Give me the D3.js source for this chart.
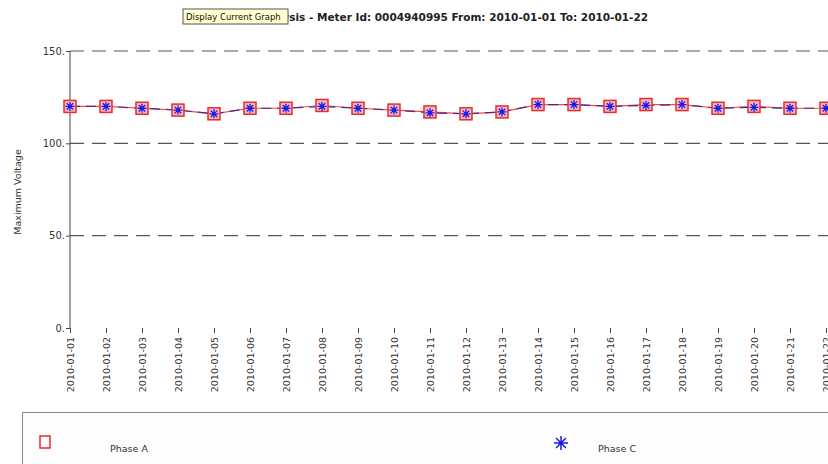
<!DOCTYPE html>
<html>
<head>
<meta charset="utf-8">
<script src="https://cdn.jsdelivr.net/npm/d3@7"></script>
<style>
  body { margin: 0; background: #fff; }
  text { font-family: Tahoma, "DejaVu Sans", sans-serif; }
</style>
</head>
<body>
<svg id="chart"></svg>
<script>
'use strict';

var dates = ["2010-01-01", "2010-01-02", "2010-01-03", "2010-01-04", "2010-01-05", "2010-01-06",
             "2010-01-07", "2010-01-08", "2010-01-09", "2010-01-10", "2010-01-11", "2010-01-12",
             "2010-01-13", "2010-01-14", "2010-01-15", "2010-01-16", "2010-01-17", "2010-01-18",
             "2010-01-19", "2010-01-20", "2010-01-21", "2010-01-22"];
var phaseA = [120, 120, 119, 118, 116, 119, 119, 120.5, 119, 118, 117, 116,
              117, 121, 121, 120, 121, 121, 119, 120, 119, 119];
var phaseC = [120, 120, 119, 118, 116, 119, 119, 120, 119, 118, 116.5, 116,
              117, 121, 121, 120, 120.5, 121, 119, 119.5, 119, 119];
var yTicks = [0, 50, 100, 150];

function show_chart() {
    var width = 828,
        height = 464;

    var x = d3.scalePoint()
                .domain(dates)
                .range([70, 826]);

    var y = d3.scaleLinear()
                .domain([0, 150])
                .range([328, 51]);

    var svg = d3.select("#chart")
                .attr("width", width)
                .attr("height", height);

    // dashed grid
    svg.append("g")
        .selectAll("line")
        .data(yTicks.filter(function(d) { return d > 0; }))
        .enter().append("line")
            .attr("x1", 70)
            .attr("x2", width)
            .attr("y1", function(d) { return y(d); })
            .attr("y2", function(d) { return y(d); })
            .attr("stroke", "#555")
            .attr("stroke-width", 1.2)
            .attr("stroke-dasharray", "14,8");

    // y axis
    var yAxis = svg.append("g")
                    .attr("transform", "translate(70,0)")
                    .call(d3.axisLeft(y).tickValues(yTicks).tickSize(4).tickFormat(function(d) { return d + "."; }));
    yAxis.select(".domain").attr("stroke", "#444").attr("d", "M0," + y(150) + "V" + y(0));
    yAxis.selectAll("text").attr("font-size", 10).attr("fill", "#333").attr("dx", 2);
    yAxis.selectAll(".tick line").attr("stroke", "#444");

    // x axis
    var xAxis = svg.append("g")
                    .attr("transform", "translate(0," + y(0) + ")")
                    .call(d3.axisBottom(x).tickSize(5).tickSizeOuter(0));
    xAxis.select(".domain").remove();
    xAxis.selectAll(".tick line").attr("stroke", "#444");
    xAxis.selectAll("text")
        .attr("font-size", 9.5)
        .attr("fill", "#333")
        .attr("transform", "rotate(-90)")
        .attr("text-anchor", "end")
        .attr("x", -9)
        .attr("y", 0)
        .attr("dy", "0.35em");

    // y title
    svg.append("text")
        .attr("transform", "translate(21,192) rotate(-90)")
        .attr("text-anchor", "middle")
        .attr("font-size", 9.5)
        .attr("fill", "#333")
        .text("Maximum Voltage");

    var line = d3.line()
                .x(function(d, i) { return x(dates[i]); })
                .y(function(d) { return y(d); });

    svg.append("path")
        .datum(phaseA)
        .attr("d", line)
        .attr("fill", "none")
        .attr("stroke", "#f04848")
        .attr("stroke-width", 1.2);

    svg.append("path")
        .datum(phaseC)
        .attr("d", line)
        .attr("fill", "none")
        .attr("stroke", "#4a2a8a")
        .attr("stroke-width", 1.2)
        .attr("stroke-dasharray", "10,6");

    // phase A markers
    svg.append("g")
        .selectAll("rect")
        .data(phaseA)
        .enter().append("rect")
            .attr("x", function(d, i) { return x(dates[i]) - 6; })
            .attr("y", function(d) { return y(d) - 6; })
            .attr("width", 12)
            .attr("height", 12)
            .attr("fill", "#f6b8c0")
            .attr("stroke", "#ee2a2a")
            .attr("stroke-width", 1.5);

    // phase C markers (asterisk)
    svg.append("g")
        .selectAll("path")
        .data(phaseC)
        .enter().append("path")
            .attr("transform", function(d, i) { return "translate(" + x(dates[i]) + "," + y(d) + ")"; })
            .attr("d", starPath(4.5))
            .attr("fill", "none")
            .attr("stroke", "#1a1ae6")
            .attr("stroke-width", 1.3);

    // title (partly hidden under the tooltip, as in the screenshot)
    svg.append("text")
        .attr("x", 648)
        .attr("y", 21)
        .attr("text-anchor", "end")
        .attr("font-size", 10.5)
        .attr("font-weight", "bold")
        .attr("fill", "#222")
        .text("Voltage Analysis  - Meter Id: 0004940995 From: 2010-01-01 To: 2010-01-22");

    // tooltip over title
    var tip = svg.append("g").attr("transform", "translate(183,9)");
    tip.append("rect")
        .attr("width", 105)
        .attr("height", 15)
        .attr("fill", "#ffffd0")
        .attr("stroke", "#555");
    tip.append("text")
        .attr("x", 3)
        .attr("y", 11)
        .attr("font-size", 8.5)
        .attr("fill", "#111")
        .text("Display Current Graph");

    // legend
    var legend = svg.append("g");
    legend.append("rect")
        .attr("x", 22.5)
        .attr("y", 412.5)
        .attr("width", 820)
        .attr("height", 60)
        .attr("fill", "#fdfdfd")
        .attr("stroke", "#888");
    legend.append("rect")
        .attr("x", 40)
        .attr("y", 436)
        .attr("width", 10)
        .attr("height", 12)
        .attr("fill", "none")
        .attr("stroke", "#ee2a2a")
        .attr("stroke-width", 1.5);
    legend.append("text")
        .attr("x", 110)
        .attr("y", 452)
        .attr("font-size", 9.5)
        .attr("fill", "#333")
        .text("Phase A");
    legend.append("path")
        .attr("transform", "translate(561,443)")
        .attr("d", starPath(7))
        .attr("fill", "none")
        .attr("stroke", "#1a1ae6")
        .attr("stroke-width", 1.5);
    legend.append("text")
        .attr("x", 598)
        .attr("y", 452)
        .attr("font-size", 9.5)
        .attr("fill", "#333")
        .text("Phase C");
}

function starPath(r) {
    var p = d3.path();
    for (var k = 0; k < 4; k++) {
        var a = k * Math.PI / 4;
        p.moveTo(-r * Math.cos(a), -r * Math.sin(a));
        p.lineTo(r * Math.cos(a), r * Math.sin(a));
    }
    return p.toString();
}

show_chart();
</script>
</body>
</html>
